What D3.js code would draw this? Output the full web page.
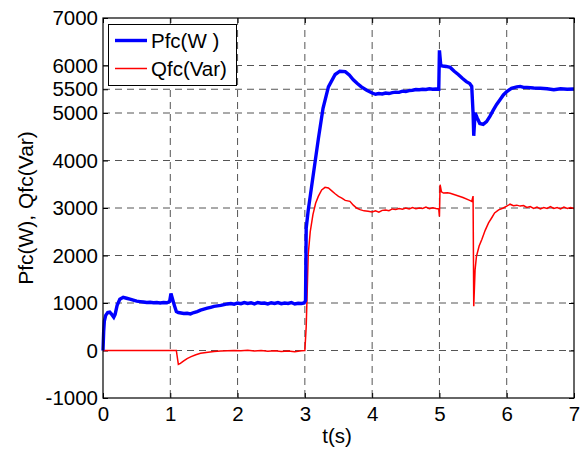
<!DOCTYPE html>
<html><head><meta charset="utf-8">
<script src="https://cdn.jsdelivr.net/npm/d3@7"></script>
<style>body{margin:0;background:#fff}svg{display:block}text{font-family:Arial,"Liberation Sans",sans-serif;fill:#000}</style>
</head><body>
<script>
const xTicks=[0,1,2,3,4,5,6,7];
const yTicks=[-1000,0,1000,2000,3000,4000,5000,5500,6000,7000];
const seriesNames=["Pfc(W )","Qfc(Var)"];
const tPfc=[0,0.01,0.02,0.04,0.07,0.10,0.13,0.16,0.18,0.21,0.25,0.30,0.35,0.40,0.45,0.50,0.55,0.60,0.65,0.70,0.75,0.80,0.85,0.90,0.95,0.99,1.01,1.03,1.06,1.09,1.12,1.16,1.20,1.25,1.30,1.35,1.40,1.45,1.50,1.55,1.60,1.65,1.70,1.75,1.80,1.85,1.90,1.95,2.00,2.05,2.10,2.15,2.20,2.25,2.30,2.35,2.40,2.45,2.50,2.55,2.60,2.65,2.70,2.75,2.80,2.85,2.90,2.95,2.99,3.01,3.02,3.05,3.10,3.15,3.20,3.27,3.35,3.45,3.52,3.60,3.66,3.72,3.78,3.84,3.92,4.00,4.05,4.10,4.15,4.20,4.25,4.30,4.35,4.40,4.45,4.50,4.55,4.60,4.65,4.70,4.75,4.80,4.85,4.90,4.95,4.99,5.00,5.02,5.05,5.10,5.16,5.22,5.28,5.34,5.40,5.45,5.48,5.50,5.51,5.53,5.56,5.60,5.65,5.70,5.75,5.80,5.85,5.90,5.95,6.00,6.07,6.15,6.20,6.25,6.30,6.40,6.50,6.60,6.70,6.80,6.90,7.00];
const vPfc=[0,400,620,740,800,810,760,700,760,950,1080,1120,1100,1080,1060,1040,1030,1020,1010,1015,1005,1010,1000,1010,1005,1030,1200,1100,950,820,800,790,780,785,770,800,820,850,870,890,910,930,940,950,965,980,990,975,1000,985,1010,990,1005,980,1010,995,1000,980,1005,990,1010,985,1000,990,1010,980,995,990,1000,1050,2580,2950,3450,3950,4450,5100,5550,5810,5880,5870,5800,5700,5620,5550,5480,5420,5395,5410,5400,5420,5410,5430,5440,5435,5460,5450,5470,5480,5495,5490,5500,5495,5510,5500,5505,5500,6320,6000,5990,5980,5960,5880,5810,5730,5660,5620,5560,5000,4520,5000,4900,4780,4760,4820,4930,5060,5180,5280,5380,5450,5520,5550,5560,5540,5540,5525,5520,5510,5490,5510,5500,5505];
const tQfc=[0,1.09,1.10,1.12,1.15,1.20,1.25,1.31,1.38,1.45,1.56,1.65,1.75,1.85,1.95,2.05,2.15,2.25,2.35,2.45,2.55,2.65,2.75,2.85,2.95,3.00,3.02,3.03,3.05,3.08,3.12,3.16,3.20,3.25,3.30,3.35,3.40,3.45,3.50,3.55,3.60,3.67,3.72,3.77,3.82,3.88,3.94,4.00,4.05,4.10,4.15,4.20,4.25,4.30,4.35,4.40,4.45,4.50,4.55,4.60,4.65,4.70,4.75,4.80,4.85,4.90,4.95,4.99,5.00,5.01,5.03,5.06,5.12,5.16,5.25,5.35,5.45,5.48,5.50,5.51,5.53,5.55,5.59,5.63,5.68,5.73,5.78,5.82,5.88,5.95,6.00,6.05,6.10,6.15,6.20,6.25,6.30,6.35,6.40,6.45,6.50,6.55,6.60,6.65,6.70,6.75,6.80,6.85,6.90,6.95,7.00];
const vQfc=[0,0,-100,-290,-270,-220,-170,-130,-90,-60,-35,-20,-10,-5,0,-5,5,-10,0,-15,-5,-20,-10,-25,-5,0,500,1000,2020,2500,2860,3100,3245,3380,3435,3420,3360,3300,3245,3210,3160,3140,3060,3000,2965,2940,2930,2915,2940,2910,2950,2960,2945,2980,2970,2990,2975,3000,2980,3010,2985,3000,2990,3020,2985,3005,2990,2980,2820,3490,3340,3315,3320,3310,3270,3220,3160,3140,3250,930,1700,1980,2200,2335,2530,2685,2800,2895,2960,3000,3040,3080,3050,3060,3040,3050,3010,3030,2990,3020,2980,3010,2990,3030,2990,3010,2980,3020,2990,3010,2990];

const W=584,H=450,L=103,R=574,T=18,B=398;
const svg=d3.select("body").append("svg").attr("width",W).attr("height",H);
const x=d3.scaleLinear().domain([0,7]).range([L,R]);
const y=d3.scaleLinear().domain([-1000,7000]).range([B,T]);

// grid
const g=svg.append("g");
g.selectAll("line.gx").data(xTicks.slice(1,-1)).join("line")
 .attr("x1",d=>x(d)).attr("x2",d=>x(d)).attr("y1",T).attr("y2",B)
 .attr("stroke","#555").attr("stroke-dasharray","7,5").attr("stroke-width",1);
g.selectAll("line.gy").data(yTicks.filter(v=>v>-1000&&v<7000)).join("line")
 .attr("x1",L).attr("x2",R).attr("y1",d=>y(d)).attr("y2",d=>y(d))
 .attr("stroke","#555").attr("stroke-dasharray","7,5").attr("stroke-width",1);

// axes
const fs=20.5;
const fmt=d=>String(d);
const ax=svg.append("g").attr("transform",`translate(0,${B})`)
 .call(d3.axisBottom(x).tickValues(xTicks).tickSizeInner(-5).tickSizeOuter(0).tickPadding(8).tickFormat(fmt));
ax.select(".domain").remove();
ax.selectAll("text").attr("font-size",fs).attr("fill","#000");
const axT=svg.append("g").attr("transform",`translate(0,${T})`)
 .call(d3.axisTop(x).tickValues(xTicks).tickSizeInner(-5).tickSizeOuter(0).tickFormat(""));
axT.select(".domain").remove();
const ay=svg.append("g").attr("transform",`translate(${L},0)`)
 .call(d3.axisLeft(y).tickValues(yTicks).tickSizeInner(-5).tickSizeOuter(0).tickPadding(5).tickFormat(fmt));
ay.select(".domain").remove();
ay.selectAll("text").attr("font-size",fs).attr("fill","#000");
const ayR=svg.append("g").attr("transform",`translate(${R},0)`)
 .call(d3.axisRight(y).tickValues(yTicks).tickSizeInner(-5).tickSizeOuter(0).tickFormat(""));
ayR.select(".domain").remove();
svg.selectAll(".tick line").attr("stroke","#000");

// lines
const line=d3.line().x(d=>x(d[0])).y(d=>y(d[1]));
const pfc=tPfc.map((t,i)=>[t,vPfc[i]]);
const qfc=tQfc.map((t,i)=>[t,vQfc[i]]);
svg.append("path").datum(qfc).attr("d",line).attr("fill","none").attr("stroke","#ff0000").attr("stroke-width",1.5);
svg.append("path").datum(pfc).attr("d",line).attr("fill","none").attr("stroke","#0000ff").attr("stroke-width",3.4);

// frame
svg.append("rect").attr("x",L).attr("y",T).attr("width",R-L).attr("height",B-T)
 .attr("fill","none").attr("stroke","#000").attr("stroke-width",1.2);

// legend
const lg=svg.append("g");
lg.append("rect").attr("x",108.5).attr("y",24.5).attr("width",128).attr("height",61)
 .attr("fill","#fff").attr("stroke","#000").attr("stroke-width",1);
const cols=["#0000ff","#ff0000"],ws=[3.4,1.5],ly=[40.5,68.5];
seriesNames.forEach((n,i)=>{
 lg.append("line").attr("x1",115).attr("x2",147).attr("y1",ly[i]).attr("y2",ly[i]).attr("stroke",cols[i]).attr("stroke-width",ws[i]);
 lg.append("text").attr("x",151).attr("y",ly[i]+7).attr("font-size",20.5).text(n);
});

// labels
svg.append("text").attr("x",337).attr("y",443).attr("text-anchor","middle").attr("font-size",20.5).text("t(s)");
svg.append("text").attr("transform","translate(33,208) rotate(-90)").attr("text-anchor","middle").attr("font-size",21).text("Pfc(W), Qfc(Var)");
</script>
</body></html>
